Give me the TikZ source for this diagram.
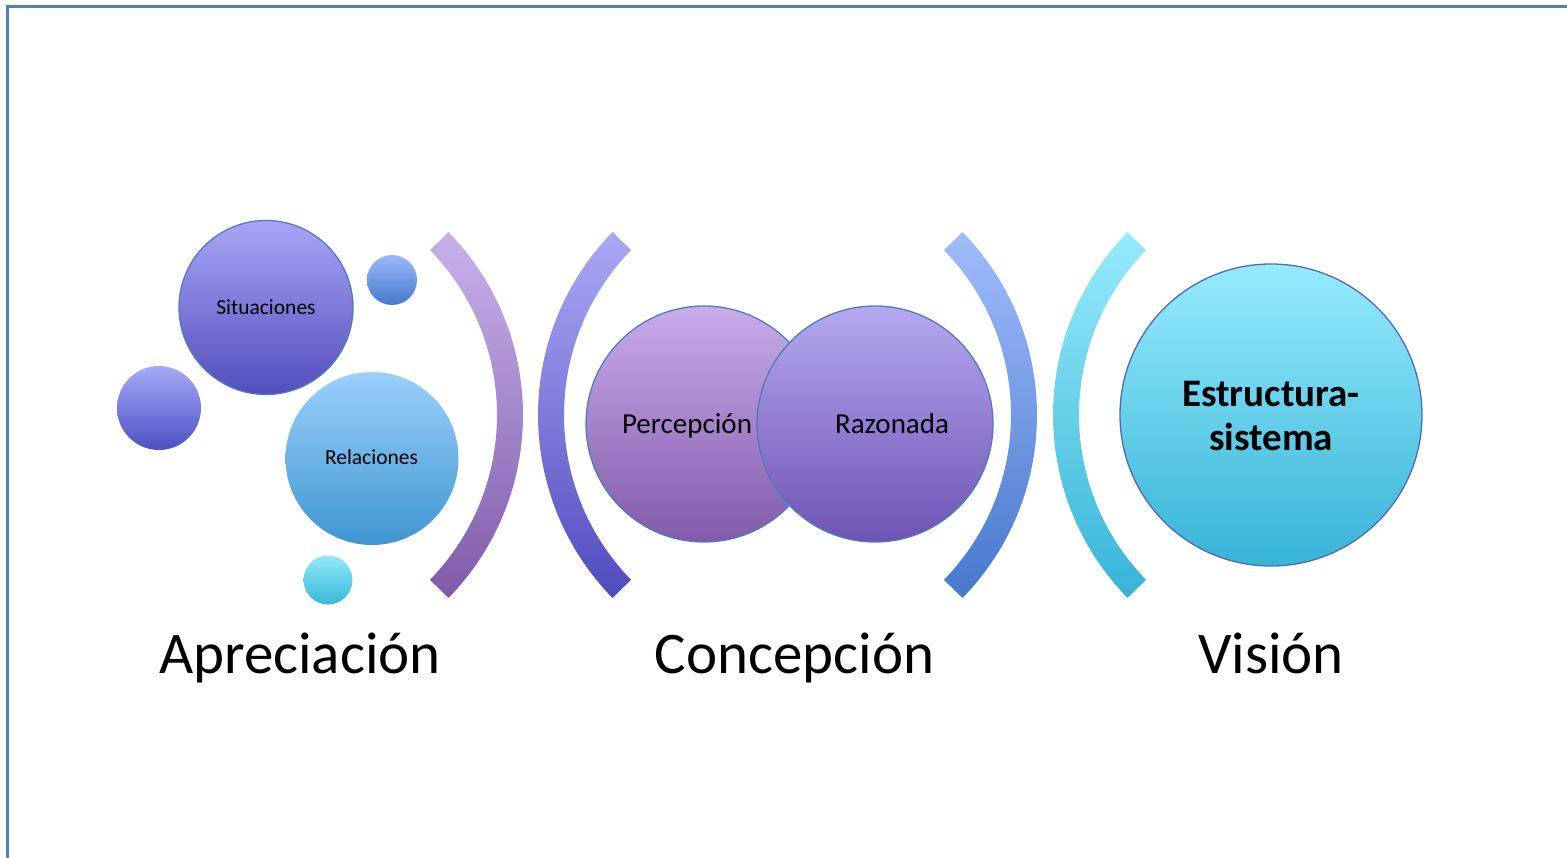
\documentclass[tikz,border=0pt]{standalone}
\usepackage{fontspec}
\setmainfont{Carlito}
\definecolor{frameblue}{RGB}{79,129,189}
\definecolor{edgeblue}{RGB}{75,125,185}
\definecolor{sitT}{RGB}{168,165,248}\definecolor{sitB}{RGB}{82,78,188}
\definecolor{smaT}{RGB}{155,185,250}\definecolor{smaB}{RGB}{70,120,205}
\definecolor{lefT}{RGB}{165,170,250}\definecolor{lefB}{RGB}{75,80,195}
\definecolor{relT}{RGB}{155,208,250}\definecolor{relB}{RGB}{62,150,210}
\definecolor{smbT}{RGB}{145,232,250}\definecolor{smbB}{RGB}{55,185,215}
\definecolor{aoT}{RGB}{200,178,235}\definecolor{aoB}{RGB}{128,90,170}
\definecolor{atT}{RGB}{172,168,245}\definecolor{atB}{RGB}{80,75,190}
\definecolor{ahT}{RGB}{160,188,252}\definecolor{ahB}{RGB}{70,120,205}
\definecolor{afT}{RGB}{150,235,252}\definecolor{afB}{RGB}{55,180,215}
\definecolor{perT}{RGB}{200,172,235}\definecolor{perB}{RGB}{130,90,170}
\definecolor{razT}{RGB}{182,168,240}\definecolor{razB}{RGB}{110,82,180}
\definecolor{estT}{RGB}{150,235,253}\definecolor{estB}{RGB}{55,180,215}
\definecolor{estE}{RGB}{80,105,180}
\tikzset{
  bubble/.style={circle, inner sep=0pt, outer sep=0pt},
  edged/.style={draw=edgeblue, line width=1.3pt},
  smalltxt/.style={anchor=base, inner sep=0pt, font=\fontsize{21.5}{26}\selectfont},
  midtxt/.style={anchor=base, inner sep=0pt, font=\fontsize{29}{35}\selectfont},
  bigtxt/.style={anchor=base, inner sep=0pt, font=\fontsize{59}{70}\selectfont},
}
\begin{document}
\begin{tikzpicture}[x=1pt, y=-1pt]
\useasboundingbox (0,0) rectangle (1567,858);
% frame
\coordinate (fbl) at (7.5,858);
\coordinate (ftl) at (7.5,6.5);
\coordinate (ftr) at (1567,6.5);
\draw[frameblue, line width=2.2pt] (fbl) -- (ftl) -- (ftr);

% bracket arcs (annular sectors)
\shade[top color=aoT, bottom color=aoB]
  (448.5,232.0) arc[start angle=-44.3, end angle=44.3, radius=262]
  -- (429.9,579.8) arc[start angle=44.3, end angle=-44.3, radius=236] -- cycle;
\shade[top color=atT, bottom color=atB]
  (612.5,232.0) arc[start angle=224.3, end angle=135.7, radius=262]
  -- (631.1,579.8) arc[start angle=135.7, end angle=224.3, radius=236] -- cycle;
\shade[top color=ahT, bottom color=ahB]
  (962.5,232.0) arc[start angle=-44.3, end angle=44.3, radius=262]
  -- (943.9,579.8) arc[start angle=44.3, end angle=-44.3, radius=236] -- cycle;
\shade[top color=afT, bottom color=afB]
  (1127.5,232.0) arc[start angle=224.3, end angle=135.7, radius=262]
  -- (1146.1,579.8) arc[start angle=135.7, end angle=224.3, radius=236] -- cycle;

% Apreciacion bubbles
\node[bubble, edged, minimum size=174pt, top color=sitT, bottom color=sitB] (sit) at (266,307.5) {};
\node[bubble, minimum size=50pt, top color=smaT, bottom color=smaB] (sma) at (392,280) {};
\node[bubble, minimum size=84pt, top color=lefT, bottom color=lefB] (lef) at (159,408) {};
\node[bubble, minimum size=173pt, top color=relT, bottom color=relB] (rel) at (372,458.5) {};
\node[bubble, minimum size=49pt, top color=smbT, bottom color=smbB] (smb) at (328,580) {};

% Concepcion bubbles
\node[bubble, edged, minimum size=236pt, top color=perT, bottom color=perB] (per) at (704,424) {};
\node[bubble, edged, minimum size=236pt, top color=razT, bottom color=razB] (raz) at (875,424) {};

% Vision bubble
\node[bubble, draw=estE, line width=1.3pt, minimum size=302pt, top color=estT, bottom color=estB] (est) at (1271,415) {};

% texts
\node[smalltxt] (tsit) at (266,314.5) {Situaciones};
\node[smalltxt] (trel) at (371.5,464.5) {Relaciones};
\node[midtxt] (tper) at (687,433.5) {Percepción};
\node[midtxt] (traz) at (892,433.5) {Razonada};
\node[anchor=center, inner sep=0pt, align=center, font=\bfseries\fontsize{39}{44}\selectfont] (test) at (1271,415.5) {Estructura-\\sistema};
\node[bigtxt] (lap) at (300,673) {Apreciación};
\node[bigtxt] (lco) at (794.5,673) {Concepción};
\node[bigtxt] (lvi) at (1271,673) {Visión};
\end{tikzpicture}
\end{document}
